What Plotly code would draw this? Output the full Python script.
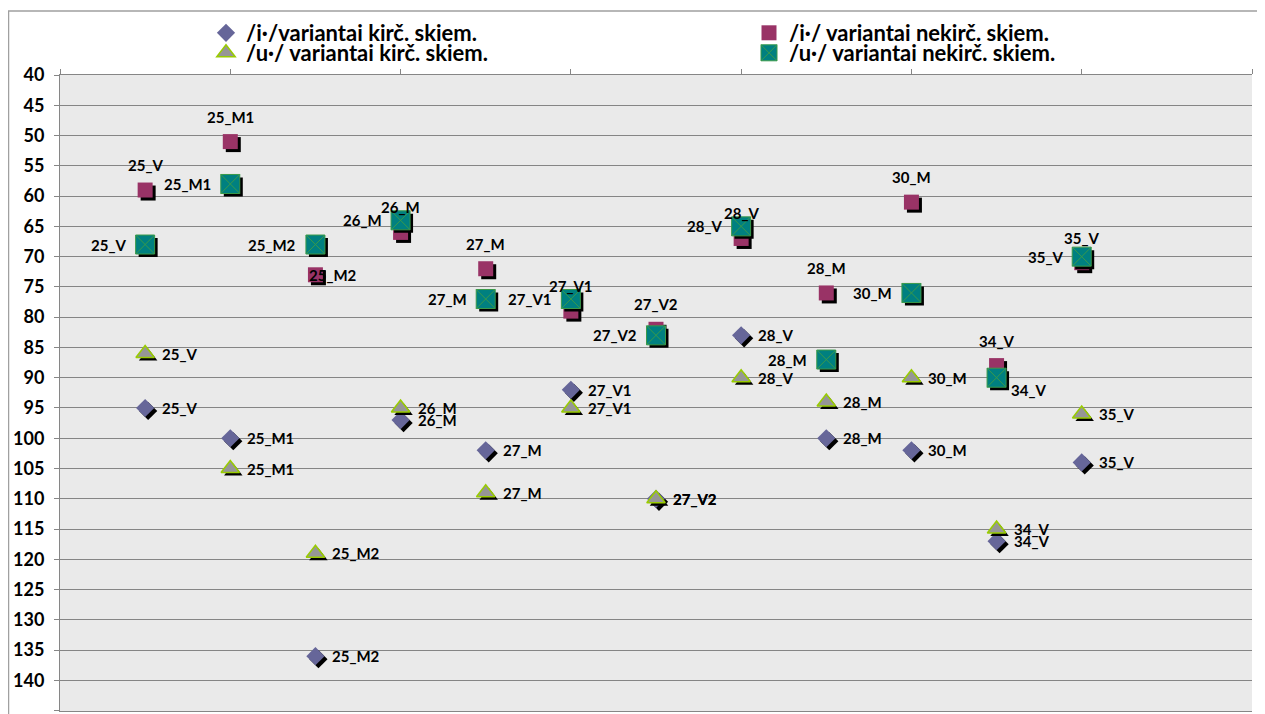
import plotly.graph_objects as go

# ---------------- data ----------------
categories = ["25_V", "25_M1", "25_M2", "26_M", "27_M", "27_V1", "27_V2",
              "28_V", "28_M", "30_M", "34_V", "35_V"]
x_pos = list(range(1, len(categories) + 1))

i_kirc = [95, 100, 136, 97, 102, 92, 110, 83, 100, 102, 117, 104]
i_nekirc = [59, 51, 73, 66, 72, 79, 82, 67, 76, 61, 88, 71]
u_kirc = [86, 105, 119, 95, 109, 95, 110, 90, 94, 90, 115, 96]
u_nekirc = [68, 58, 68, 64, 77, 77, 83, 65, 87, 76, 90, 70]

series_names = ["/i·/variantai kirč. skiem.", "/i·/ variantai nekirč. skiem.",
                "/u·/ variantai kirč. skiem.", "/u·/ variantai nekirč. skiem."]

y_ticks = list(range(40, 146, 5))

# ---------------- layout constants ----------------
PAGE_OFF = 8                      # browser body margin
W, H = 1265 - PAGE_OFF, 714 - PAGE_OFF
# plot area in page pixels: left 60, right 1252, top 75, bottom 711
ML, MT = 60 - PAGE_OFF, 75 - PAGE_OFF
MR, MB = 1265 - 1252, 714 - 711
PW, PH = W - ML - MR, H - MT - MB
X_RANGE = [0, 14]
Y_RANGE = [145.05, 40]
FONT = "Lato"

dx_shadow = 3 * (X_RANGE[1] - X_RANGE[0]) / PW
dy_shadow = 3 * (Y_RANGE[0] - Y_RANGE[1]) / PH


def px_x(px):
    """page pixel x -> paper x"""
    return (px - PAGE_OFF - ML) / PW


def px_y(py):
    """page pixel y -> paper y"""
    return (H - MB - (py - PAGE_OFF)) / PH


styles = [
    dict(symbol="diamond", size=14, color="#666699", line=dict(width=0), legend="legend"),
    dict(symbol="square", size=15, color="#993366", line=dict(width=0), legend="legend2"),
    dict(symbol="triangle-up", size=16, color="#969696", line=dict(width=1.5, color="#99CC00"), legend="legend3"),
    dict(symbol="square-x", size=19, color="#008080", line=dict(width=1, color="#3A9A4A"), legend="legend4"),
]
all_series = [i_kirc, i_nekirc, u_kirc, u_nekirc]

fig = go.Figure()
for name, ys, st in zip(series_names, all_series, styles):
    # shadow
    fig.add_trace(go.Scatter(
        x=[v + dx_shadow for v in x_pos], y=[v + dy_shadow for v in ys],
        mode="markers", showlegend=False, hoverinfo="skip",
        marker=dict(symbol=st["symbol"], size=st["size"], color="black", line=dict(width=0)),
    ))
    fig.add_trace(go.Scatter(
        x=x_pos, y=ys, mode="markers", name=name, legend=st["legend"],
        marker=dict(symbol=st["symbol"], size=st["size"], color=st["color"], line=st["line"]),
    ))

# ---------------- data labels ----------------
label_font = dict(family=FONT, size=15, color="black", weight="bold")
# default placement per series: (xanchor, xshift, yshift)
label_default = [("left", 15, 0), ("center", 0, 25), ("left", 15, 0), ("right", -17, 0)]
label_override = {(1, "25_M2"): ("left", -8, 0), (3, "34_V"): ("left", 12, -12)}

annotations = []
for si, ys in enumerate(all_series):
    for cat, xv, yv in zip(categories, x_pos, ys):
        xa, xs, ysh = label_override.get((si, cat), label_default[si])
        annotations.append(dict(x=xv, y=yv, text=cat, showarrow=False, xanchor=xa,
                                yanchor="middle", xshift=xs, yshift=ysh, font=label_font))

# ---------------- legends ----------------
legend_font = dict(family=FONT, size=22, color="black", weight="bold")
leg_common = dict(font=legend_font, bgcolor="rgba(0,0,0,0)", orientation="v",
                  xanchor="left", yanchor="middle", itemsizing="trace")
legend_pos = {"legend": (206, 33), "legend2": (749, 33), "legend3": (206, 53), "legend4": (749, 53)}
legends = {k: dict(leg_common, x=px_x(px), y=px_y(py)) for k, (px, py) in legend_pos.items()}

# chart border (top and left)
border = dict(type="path", xref="paper", yref="paper",
              path=f"M {px_x(8.5)},{px_y(716)} L {px_x(8.5)},{px_y(11)} L {px_x(1267)},{px_y(11)}",
              line=dict(color="#A0A0A0", width=1.5))

fig.update_layout(
    width=W, height=H,
    margin=dict(l=ML, r=MR, t=MT, b=MB, autoexpand=False),
    paper_bgcolor="white",
    plot_bgcolor="#EAEAEA",
    showlegend=True,
    annotations=annotations,
    shapes=[border],
    **legends,
    xaxis=dict(range=X_RANGE, side="top", tickvals=list(range(0, 15, 2)), showticklabels=False,
               ticks="outside", ticklen=5, tickcolor="#868686", showgrid=False, zeroline=False,
               showline=True, linecolor="#868686", linewidth=1, mirror=True),
    yaxis=dict(range=Y_RANGE, tickvals=y_ticks, ticks="outside", ticklen=5, tickcolor="#868686",
               tickfont=dict(family=FONT, size=18, color="black", weight="bold"),
               ticklabelstandoff=6,
               showgrid=True, gridcolor="#858585", gridwidth=1, zeroline=False,
               showline=True, linecolor="#868686", linewidth=1),
)

fig.write_html("out.html")
